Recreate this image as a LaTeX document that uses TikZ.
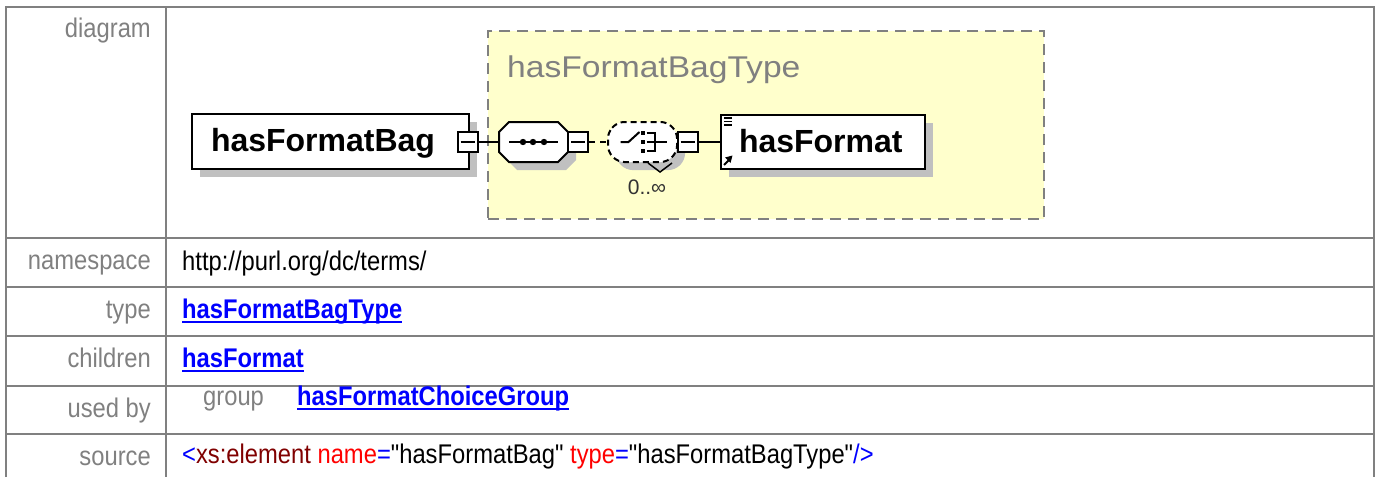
\documentclass[tikz,border=0pt]{standalone}
\usepackage{fontspec}
\setmainfont{Liberation Sans}
\newfontfamily\tabfont[FakeStretch=0.88]{Liberation Sans}
\newfontfamily\titlefont[FakeStretch=1.12]{Liberation Sans}
\usetikzlibrary{arrows, positioning, shadows}
\definecolor{lblgray}{HTML}{808080}
\definecolor{typeyellow}{HTML}{FFFFCC}
\definecolor{shadegray}{HTML}{C0C0C0}
\definecolor{srcred}{HTML}{800000}
\newcommand{\ulink}[1]{\setbox0\hbox{#1}\rlap{\vrule width\wd0 height -2.5pt depth 4.5pt}\box0}
\newcommand{\octagon}{(-34.5,-10) -- (-24.5,-20) -- (24.5,-20) -- (34.5,-10) -- (34.5,10) -- (24.5,20) -- (-24.5,20) -- (-34.5,10) -- cycle}
\tikzstyle{grid}		=[draw=lblgray, line width=2.5pt]
\tikzstyle{rowlabel}	=[anchor=base east, inner sep=0pt, text=lblgray, font=\tabfont\fontsize{27}{30}\selectfont]
\tikzstyle{rowvalue}	=[anchor=base west, inner sep=0pt, text=black, font=\tabfont\fontsize{27}{30}\selectfont]
\tikzstyle{link}		=[anchor=base west, inner sep=0pt, text=blue, font=\tabfont\bfseries\fontsize{27}{30}\selectfont]
\tikzstyle{shade}		=[drop shadow={shadow xshift=8pt, shadow yshift=-8pt, fill=shadegray, opacity=1}]
\tikzstyle{element}		=[rectangle, draw=black, line width=2pt, fill=white, shade, anchor=north west, inner ysep=0pt, minimum height=55pt, text height=23pt, text depth=3pt, font=\bfseries\fontsize{32}{36}\selectfont]
\tikzstyle{minus}		=[rectangle, draw=black, line width=2pt, fill=white, minimum size=20pt, inner sep=0pt, path picture={\draw[line width=1.6pt] ([xshift=3pt]path picture bounding box.west) -- ([xshift=-3pt]path picture bounding box.east);}]
\tikzstyle{compositor}	=[rectangle, minimum width=69pt, minimum height=40pt, inner sep=0pt]
\tikzstyle{octline}		=[draw=black, line width=2pt, fill=white, shade]
\tikzstyle{conn}		=[draw=black, line width=2pt]

\begin{document}
\begin{tikzpicture}[x=1pt, y=-1pt]
	\useasboundingbox (0,0) rectangle (1379,477);

	\draw[grid] (6,477) -- (6,7) -- (1374,7) -- (1374,477);
	\draw[grid] (166,7) -- (166,477);
	\foreach \y in {238,287,336,386,434}
		\draw[grid] (6,\y) -- (1374,\y);

	\node (LblDiagram)		[rowlabel]		at (151,37)		{diagram};
	\node (LblNamespace)	[rowlabel]		at (151,269)	{namespace};
	\node (LblType)			[rowlabel]		at (151,318)	{type};
	\node (LblChildren)		[rowlabel]		at (151,367)	{children};
	\node (LblUsedBy)		[rowlabel]		at (151,417)	{used by};
	\node (LblSource)		[rowlabel]		at (151,465)	{source};

	\node (Namespace)		[rowvalue]		at (182,270)	{http://purl.org/dc/terms/};
	\node (TypeLink)		[link]			at (182,318)	{\ulink{hasFormatBagType}};
	\node (ChildLink)		[link]			at (182,367)	{\ulink{hasFormat}};
	\node (GroupLbl)		[rowvalue, text=lblgray]	at (203,405)	{group};
	\node (GroupLink)		[link]			at (297,405)	{\ulink{hasFormatChoiceGroup}};
	\node (Source)			[rowvalue]		at (182,463)
	{
		\textcolor{blue}{<}\textcolor{srcred}{xs:element} \textcolor{red}{name}\textcolor{blue}{=}"hasFormatBag" \textcolor{red}{type}\textcolor{blue}{=}"hasFormatBagType"\textcolor{blue}{/>}
	};

	\node (TypeBox)			[draw=lblgray, fill=typeyellow, line width=2pt, dash pattern=on 11pt off 7pt, inner sep=0pt, anchor=north west, minimum width=556pt, minimum height=188pt]	at (487,30)	{};
	\node (TypeTitle)		[anchor=base west, inner sep=0pt, text=lblgray, font=\titlefont\fontsize{30}{34}\selectfont]	at (507,77)	{hasFormatBagType};

	\node (Bag)				[element, inner xsep=19pt, text width=239pt]	at (191,113)	{hasFormatBag};
	\node (Seq)				[compositor]	at (533.5,142)	{};
	\node (Choice)			[compositor]	at (642.5,142)	{};

	\begin{scope}[shift={(Seq.center)}]
		\path[octline] \octagon;
		\draw[line width=2pt] (-24.5,0) -- (24.5,0);
		\foreach \x in {-10.5,-0.5,10.5}
			\fill (\x,0) circle (3.2pt);
	\end{scope}

	\begin{scope}[shift={(Choice.center)}, line width=2pt]
		\path[octline, dash pattern=on 6pt off 4pt, rounded corners=6pt] \octagon;
		\draw (-22,0) -- (-14,0) -- (-3,-10);
		\foreach \y in {-9,0,9}
			\fill (-1.5,\y-2) rectangle (2.5,\y+2);
		\draw (4,-9) -- (12,-9) -- (12,9) -- (4,9);
		\draw (4,0) -- (24,0);
		\draw[line width=1.5pt] (5.5,21) -- (17.5,30) -- (29.5,21);
	\end{scope}

	\node (BagMinus)		[minus]			at (467.5,142)	{};
	\node (SeqMinus)		[minus]			at (578,142)	{};
	\node (ChoiceMinus)		[minus]			at (687.5,142)	{};
	\node (Format)			[element, inner xsep=18pt, text width=168pt, minimum height=54pt]	at (720,114)	{hasFormat};
	\node (Repeat)			[inner sep=0pt, text=black!80, font=\fontsize{21}{24}\selectfont]	at (647,187)	{0..∞};

	\draw[conn] (BagMinus) -- (Seq);
	\draw[conn, dash pattern=on 6pt off 5pt] (SeqMinus) -- (Choice);
	\draw[conn] (ChoiceMinus) -- (ChoiceMinus -| Format.west);

	\begin{scope}[shift={(Format.north west)}]
		\foreach \y in {4,7.5,11}
			\draw[line width=1.5pt] (4,\y) -- (12,\y);
		\draw[line width=2pt] (4,51) -- (8.5,46.5);
		\fill (12.5,41.5) -- (5,43.5) -- (10.5,49) -- cycle;
	\end{scope}
\end{tikzpicture}
\end{document}
